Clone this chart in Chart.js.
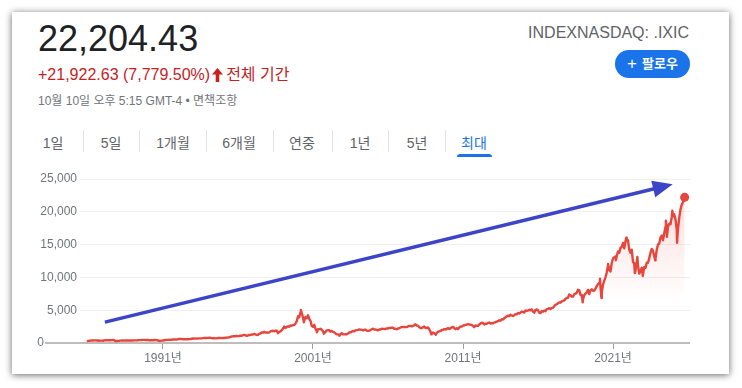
<!DOCTYPE html>
<html><head><meta charset="utf-8">
<script src="https://cdn.jsdelivr.net/npm/chart.js@4.4.1/dist/chart.umd.min.js"></script>
<style>
html,body{margin:0;padding:0;background:#fff;width:742px;height:388px;overflow:hidden;font-family:Arial,"Liberation Sans","Noto Sans CJK KR",sans-serif;}
#card{position:absolute;left:12px;top:12px;width:717px;height:362px;background:#fff;box-shadow:0 1px 7px rgba(0,0,0,0.6);}
.abs{position:absolute;white-space:nowrap;}
#price{left:38px;top:19px;font-size:36px;color:#202124;line-height:40px;}
#chg{left:38px;top:65px;font-size:16px;color:#c5221f;line-height:20px;}
#chg svg{vertical-align:-2px;margin:0 3px 0 2px;}
#date{left:38px;top:94px;font-size:12px;color:#70757a;line-height:15px;}
#sym{right:53px;top:23px;font-size:16px;color:#5f6368;line-height:20px;}
#btn{left:615px;top:50px;width:75px;height:28px;border-radius:14px;background:#1a73e8;color:#fff;font-size:13px;font-weight:bold;line-height:28px;text-align:center;}
.tab{position:absolute;top:133px;font-size:14px;color:#5f6368;line-height:20px;transform:translateX(-50%);white-space:nowrap;}
.sep{position:absolute;top:130px;width:1px;height:22px;background:#e3e3e3;}
#ul{position:absolute;left:457px;top:154px;width:35px;height:3px;background:#1a73e8;border-radius:3px 3px 0 0;}
#wrap{position:absolute;left:0;top:160px;width:742px;height:228px;}
</style></head>
<body>
<div id="card"></div>
<div class="abs" id="price">22,204.43</div>
<div class="abs" id="chg">+21,922.63 (7,779.50%)<svg width="11" height="14" viewBox="0 0 11 14"><path fill="#c5221f" d="M5.5 0 L11 6.5 H7.3 V14 H3.7 V6.5 H0 Z"/></svg>전체 기간</div>
<div class="abs" id="date">10월 10일 오후 5:15 GMT-4 • 면책조항</div>
<div class="abs" id="sym">INDEXNASDAQ: .IXIC</div>
<div class="abs" id="btn"><span style="font-size:17px;font-weight:normal;vertical-align:-1px;margin-right:5px;">+</span>팔로우</div>
<div id="tabs"></div>
<div id="ul"></div>
<div id="wrap"><canvas id="c" width="742" height="228"></canvas></div>
<script>
// ---- tab labels ----
const tabLabels = ["1일","5일","1개월","6개월","연중","1년","5년","최대"];
const tabCenters = [53,111,173,239,302,360,417,474];
const tabSeps = [83,139,206,273,332,388,445];

// ---- data: monthly closes starting Nov 1985 ----
const startYear = 1985, startMonth = 11;
const monthlyCloses = [
 292,325,
 335,360,375,383,400,405,371,383,350,360,359,349,
 392,424,430,418,416,424,434,455,444,323,305,331,
 344,366,374,379,370,394,387,376,387,382,372,381,
 401,399,407,428,446,435,453,469,473,456,454,455,
 416,425,435,420,458,462,438,381,344,329,359,374,
 414,453,482,484,506,475,502,525,527,542,523,586,
 620,633,603,579,585,563,580,563,583,605,652,677,
 696,671,690,661,700,704,705,742,763,779,754,777,
 800,793,743,733,735,706,722,765,764,777,750,752,
 755,793,817,843,864,933,1001,1020,1044,1036,1059,1052,
 1060,1100,1101,1191,1243,1185,1081,1141,1227,1222,1293,1291,
 1380,1309,1222,1261,1400,1442,1594,1587,1686,1594,1601,1570,
 1620,1771,1835,1869,1779,1895,1872,1499,1694,1771,1950,2193,
 2505,2288,2461,2543,2471,2686,2638,2739,2746,2966,3336,4069,
 3940,4697,4573,3861,3401,3966,3767,4206,3673,3370,2598,2471,
 2773,2152,1840,2116,2110,2161,2027,1805,1499,1690,1931,1950,
 1934,1731,1845,1688,1616,1463,1329,1315,1172,1330,1479,1336,
 1321,1338,1341,1464,1596,1623,1735,1810,1787,1932,1960,2003,
 2066,2030,1994,1920,1987,2048,1887,1838,1897,1975,2097,2175,
 2062,2052,1999,1922,2068,2057,2185,2152,2152,2120,2233,2205,
 2306,2281,2340,2323,2179,2172,2091,2184,2258,2367,2432,2415,
 2464,2416,2422,2525,2605,2603,2546,2596,2702,2859,2661,2652,
 2390,2271,2279,2413,2523,2293,2326,2368,2092,1721,1536,1577,
 1476,1378,1529,1717,1774,1835,1979,2009,2122,2045,2145,2269,
 2147,2238,2398,2461,2257,2109,2255,2114,2369,2507,2498,2653,
 2700,2782,2781,2873,2835,2774,2756,2579,2415,2684,2620,2605,
 2814,2967,3092,3046,2827,2935,2940,3067,3116,2977,3010,3020,
 3142,3160,3268,3329,3456,3403,3626,3590,3771,3920,4060,4177,
 4104,4308,4199,4115,4243,4408,4370,4580,4493,4631,4792,4736,
 4635,4964,4901,4941,5070,4987,5128,4777,4620,5054,5109,5007,
 4614,4558,4870,4775,4948,4843,5162,5213,5312,5189,5324,5383,
 5615,5825,5912,6048,6199,6140,6348,6429,6496,6728,6874,6903,
 7411,7273,7063,7066,7442,7510,7672,8110,8046,7306,7331,6635,
 7282,7533,7729,8095,7453,8006,8175,7963,7999,8292,8665,8973,
 9151,8567,7700,8890,9490,10059,10745,11775,11168,10912,12199,12888,
 13071,13192,13247,13962,13749,14504,14673,15259,14449,15498,15538,15645,
 14240,13751,14221,12335,12081,11029,12391,11816,10576,10988,11468,10466,
 11585,11456,12222,12227,12935,13788,14346,14035,13219,12851,14226,15011,
 15164,16092,16379,15658,16735,17733,17599,17714,18189,18095,19218,19311,
 19627,18847,17299,17446,19114,20370,21122,21456,21950
];
// intra-month extremes
const extremeDates = ["1987-10-26","2000-03-10","2000-05-23","2000-09-01","2001-04-04","2001-09-21","2002-10-09","2008-11-20","2009-03-09","2018-12-24","2020-02-19","2020-03-23","2020-09-02","2021-03-08","2021-11-19","2022-06-16","2022-08-16","2022-12-28","2023-10-27","2024-07-10","2024-08-05","2024-12-16","2025-04-08","2025-10-10"];
const extremeValues = [298,5048,3164,4234,1638,1423,1114,1316,1268,6193,9817,6861,12056,12609,16057,10646,13128,10213,12595,18647,16200,20173,15268,22204];

// ---- axis ----
const yTicks = [0,5000,10000,15000,20000,25000];
const xTickYears = [1991,2001,2011,2021];
const xSuffix = "년";
const arrowFrom = {x:1987.13, y:3180};
const arrowTo = {x:2024.98, y:24200};

// tabs
const tabsEl = document.getElementById('tabs');
tabLabels.forEach((t,i)=>{const d=document.createElement('div');d.className='tab';d.textContent=t;d.style.left=tabCenters[i]+'px';if(i===tabLabels.length-1){d.style.color='#1a73e8';}tabsEl.appendChild(d);});
tabSeps.forEach(x=>{const d=document.createElement('div');d.className='sep';d.style.left=x+'px';tabsEl.appendChild(d);});

function decYear(s){const [y,m,d]=s.split('-').map(Number);return y+(m-1)/12+(d-1)/365;}
const pts = monthlyCloses.map((v,i)=>{const mi=startMonth-1+i;return {x:startYear+(mi+1)/12,y:v};});
extremeDates.forEach((d,i)=>pts.push({x:decYear(d),y:extremeValues[i]}));
pts.sort((a,b)=>a.x-b.x);

const RED='#e8453c';
const overlay = {
  id:'overlay',
  beforeDatasetsDraw(chart){
    const ctx=chart.ctx, y=chart.scales.y, x=chart.scales.x;
    const y0=y.getPixelForValue(0);
    ctx.save();
    ctx.strokeStyle='#bdbdbd';ctx.lineWidth=2;
    ctx.beginPath();ctx.moveTo(45,y0);ctx.lineTo(x.right,y0);ctx.stroke();
    ctx.fillStyle='#70757a';ctx.font='12px Arial, "Liberation Sans", sans-serif';
    ctx.textAlign='right';ctx.textBaseline='middle';
    ctx.fillText('0',44,y0);
    ctx.restore();
  },
  afterDatasetsDraw(chart){
    const ctx=chart.ctx, xs=chart.scales.x, ys=chart.scales.y;
    const x1=xs.getPixelForValue(arrowFrom.x), y1=ys.getPixelForValue(arrowFrom.y);
    const x2=xs.getPixelForValue(arrowTo.x), y2=ys.getPixelForValue(arrowTo.y);
    const ang=Math.atan2(y2-y1,x2-x1), hl=20, hw=8.5;
    const bx=x2-hl*Math.cos(ang), by=y2-hl*Math.sin(ang);
    ctx.save();
    ctx.strokeStyle='#3c44c8';ctx.fillStyle='#3c44c8';ctx.lineWidth=3.5;ctx.lineCap='butt';
    ctx.beginPath();ctx.moveTo(x1,y1);ctx.lineTo(bx+2*Math.cos(ang),by+2*Math.sin(ang));ctx.stroke();
    ctx.beginPath();ctx.moveTo(x2,y2);
    ctx.lineTo(bx+hw*Math.sin(ang),by-hw*Math.cos(ang));
    ctx.lineTo(bx-hw*Math.sin(ang),by+hw*Math.cos(ang));
    ctx.closePath();ctx.fill();
    ctx.restore();
  }
};

new Chart(document.getElementById('c'),{
  type:'line',
  data:{datasets:[{
    data:pts,
    borderColor:RED,borderWidth:2.4,borderJoinStyle:'round',
    pointRadius:(c)=>c.dataIndex===pts.length-1?4.5:0,
    pointBackgroundColor:RED,pointBorderWidth:0,pointHoverRadius:0,
    tension:0,fill:'origin',
    backgroundColor:(c)=>{const a=c.chart.chartArea;if(!a)return 'rgba(0,0,0,0)';
      const g=c.chart.ctx.createLinearGradient(0,a.top,0,a.bottom);
      g.addColorStop(0,'rgba(234,67,53,0.22)');g.addColorStop(0.45,'rgba(234,67,53,0.08)');g.addColorStop(0.75,'rgba(234,67,53,0.0)');g.addColorStop(1,'rgba(234,67,53,0)');return g;}
  }]},
  options:{
    responsive:false,animation:false,
    layout:{padding:{left:0,right:52,top:19,bottom:0}},
    plugins:{legend:{display:false},tooltip:{enabled:false}},
    scales:{
      x:{type:'linear',min:1985.467,max:2026.133,
        afterFit(s){s.height=45;},
        afterBuildTicks(s){s.ticks=xTickYears.map(v=>({value:v}));},
        grid:{display:true,drawOnChartArea:false,drawTicks:true,tickLength:6,tickColor:'#9e9e9e',tickWidth:1},
        border:{display:false},
        ticks:{color:'#70757a',font:{size:12,family:'Arial, "Liberation Sans", "Noto Sans CJK KR", sans-serif'},padding:2,maxRotation:0,autoSkip:false,callback:(v)=>v+xSuffix}
      },
      y:{min:0,max:25000,
        afterFit(s){s.width=80;},
        afterBuildTicks(s){s.ticks=yTicks.map(v=>({value:v}));},
        grid:{drawTicks:false,color:(c)=>c.tick&&c.tick.value===0?'rgba(0,0,0,0)':'#efefef',lineWidth:1},
        border:{display:false},
        ticks:{color:'#70757a',padding:3,font:{size:12,family:'Arial, "Liberation Sans", sans-serif'},callback:(v)=>v===0?'':v.toLocaleString('en-US')}
      }
    }
  },
  plugins:[overlay]
});
</script>
</body></html>
